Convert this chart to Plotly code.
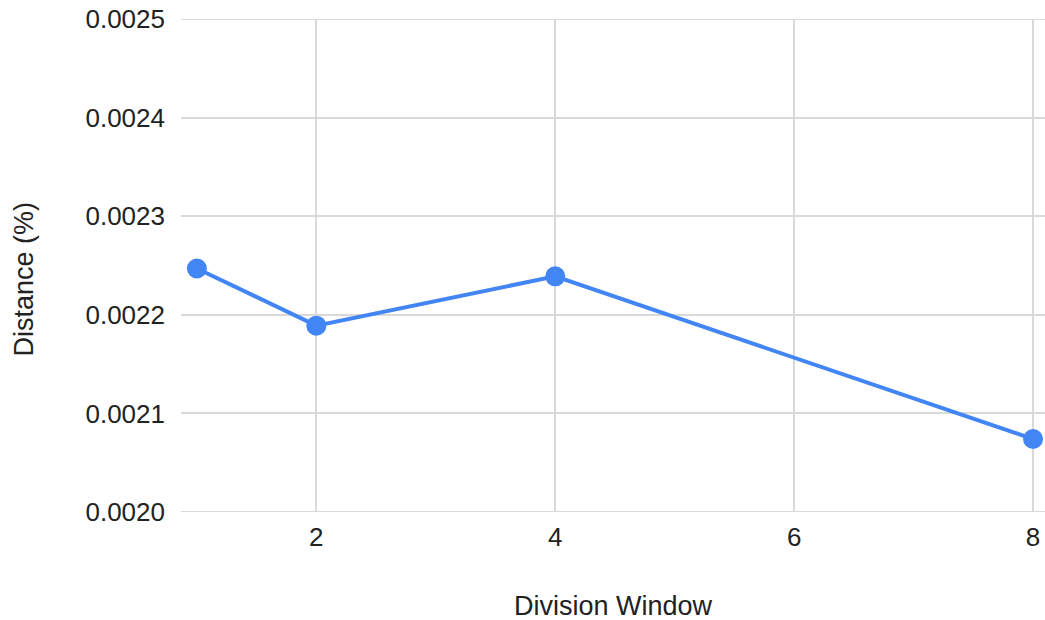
import plotly.graph_objects as go

# Distance vs. division window
division_window = [1, 2, 4, 8]
distance_pct = [0.002247, 0.002189, 0.002239, 0.002074]

x_tick_vals = [2, 4, 6, 8]
y_tick_vals = [0.0020, 0.0021, 0.0022, 0.0023, 0.0024, 0.0025]

FONT = "Arial, Liberation Sans, sans-serif"
TEXT = "#222222"
GRID = "#d9d9d9"
BLUE = "#4285F4"

fig = go.Figure(
    go.Scatter(
        x=division_window,
        y=distance_pct,
        mode="lines+markers",
        line=dict(color=BLUE, width=4),
        marker=dict(color=BLUE, size=20),
        cliponaxis=False,
        showlegend=False,
    )
)

fig.update_layout(
    width=1045,
    height=620,
    margin=dict(l=181, r=0, t=19, b=108),
    paper_bgcolor="white",
    plot_bgcolor="white",
    font=dict(family=FONT, size=26, color=TEXT),
    xaxis=dict(
        range=[0.867, 8.1],
        tickvals=x_tick_vals,
        showgrid=True,
        gridcolor=GRID,
        gridwidth=2,
        zeroline=False,
        showline=False,
        ticks="",
        ticklabelstandoff=7,
        tickfont=dict(family=FONT, size=26, color=TEXT),
    ),
    yaxis=dict(
        range=[0.0020, 0.0025],
        tickvals=y_tick_vals,
        tickformat=".4f",
        showgrid=True,
        gridcolor=GRID,
        gridwidth=2,
        zeroline=False,
        showline=False,
        ticks="",
        ticklabelstandoff=15,
        tickfont=dict(family=FONT, size=26, color=TEXT),
    ),
    annotations=[
        dict(
            text="Division Window",
            xref="paper", yref="paper",
            x=0.5, y=-0.191,
            xanchor="center", yanchor="middle",
            showarrow=False,
            font=dict(family=FONT, size=27, color=TEXT),
        ),
        dict(
            text="Distance (%)",
            xref="paper", yref="paper",
            x=-0.182, y=0.473,
            xanchor="center", yanchor="middle",
            textangle=-90,
            showarrow=False,
            font=dict(family=FONT, size=27, color=TEXT),
        ),
    ],
)

# Frame lines at the top and bottom of the value range
fig.add_shape(type="line", xref="paper", yref="y", x0=0, x1=1, y0=0.0025, y1=0.0025,
              line=dict(color=GRID, width=2), layer="below")
fig.add_shape(type="line", xref="paper", yref="y", x0=0, x1=1, y0=0.0020, y1=0.0020,
              line=dict(color=GRID, width=2), layer="below")

fig.write_html("out.html")
